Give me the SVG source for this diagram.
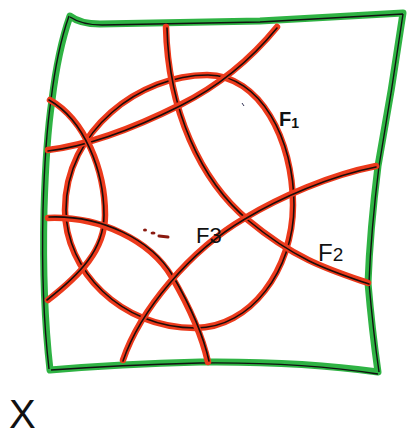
<svg xmlns="http://www.w3.org/2000/svg" width="409" height="435" viewBox="0 0 409 435">
<style>
.frame{fill:none;stroke:#2fb344;stroke-width:7;stroke-linejoin:round;stroke-linecap:round}
.frameInk{fill:none;stroke:#111;stroke-width:1.4}
.red{fill:none;stroke:#ec3a1c;stroke-width:6.5;stroke-linecap:round}
.ink{fill:none;stroke:#1a0d0a;stroke-width:1.6;stroke-linecap:round}
.lbl{font-family:"Liberation Sans",Arial,sans-serif;fill:#111}
</style>
<rect width="409" height="435" fill="#fff"/>
<g id="frame">
<path class="frame" d="M70,16 Q80,24 100,24 L260,21 L403,13 Q392,90 378,166 Q370,230 368,283 Q372,330 378,372 Q300,361 200,362 Q120,364 50,370 Q42,300 44,210 Q46,140 52,100 Q58,50 70,16 Z"/>
<path class="frameInk" d="M70,17 Q82,25 102,25 L260,22 L403,14 M403,14 Q392,90 379,166 Q371,230 369,283 Q373,330 379,372 M378,374 Q300,362 200,363 Q120,365 51,370 M49,369 Q41,300 43,210 Q45,140 51,100 Q57,50 69,16"/>
</g>
<g id="curves">
<g id="circle">
<path class="red" d="M207,75 C260,75 293,140 293,205 C293,270 250,328 195,328 C120,328 65,270 65,210 C65,130 140,75 207,75 Z"/>
<path class="ink" transform="translate(1,0)" d="M207,75 C260,75 293,140 293,205 C293,270 250,328 195,328 C120,328 65,270 65,210 C65,130 140,75 207,75 Z"/>
</g>
<g id="c2">
<path class="red" d="M166,27 C168,110 200,180 248,220 S330,270 368,283"/>
<path class="ink" transform="translate(1,1)" d="M166,27 C168,110 200,180 248,220 S330,270 368,283"/>
</g>
<g id="c3">
<path class="red" d="M277,27 C250,60 220,85 180,105 C140,125 90,145 48,150"/>
<path class="ink" transform="translate(0,1)" d="M277,27 C250,60 220,85 180,105 C140,125 90,145 48,150"/>
</g>
<g id="c4">
<path class="red" d="M50,100 C85,120 105,170 105,215 C105,250 80,275 48,300"/>
<path class="ink" transform="translate(-1,0)" d="M50,100 C85,120 105,170 105,215 C105,250 80,275 48,300"/>
</g>
<g id="c5">
<path class="red" d="M48,218 C100,216 150,240 172,277 C190,308 202,335 208,362"/>
<path class="ink" transform="translate(1,-1)" d="M48,218 C100,216 150,240 172,277 C190,308 202,335 208,362"/>
</g>
<g id="c6">
<path class="red" d="M123,360 C140,310 190,250 245,218 C280,197 330,175 376,166"/>
<path class="ink" transform="translate(0,1)" d="M123,360 C140,310 190,250 245,218 C280,197 330,175 376,166"/>
</g>
</g>
<g id="marks">
<ellipse cx="145" cy="230" rx="2" ry="1.5" fill="#8a1a10"/>
<ellipse cx="153" cy="233" rx="2.5" ry="1.5" fill="#8a1a10"/>
<path d="M159,236 L168,237" stroke="#8a1a10" stroke-width="3" stroke-linecap="round"/>
<path d="M242,103 L244,106" stroke="#335" stroke-width="1"/>
</g>
<g id="labels">
<text class="lbl" x="279" y="126" font-size="20" font-weight="bold">F<tspan font-size="14" dy="2">1</tspan></text>
<text class="lbl" x="196" y="243" font-size="22">F3</text>
<text class="lbl" x="318" y="261" font-size="24">F<tspan font-size="19">2</tspan></text>
<text class="lbl" x="9" y="428" font-size="40">X</text>
</g>
</svg>
